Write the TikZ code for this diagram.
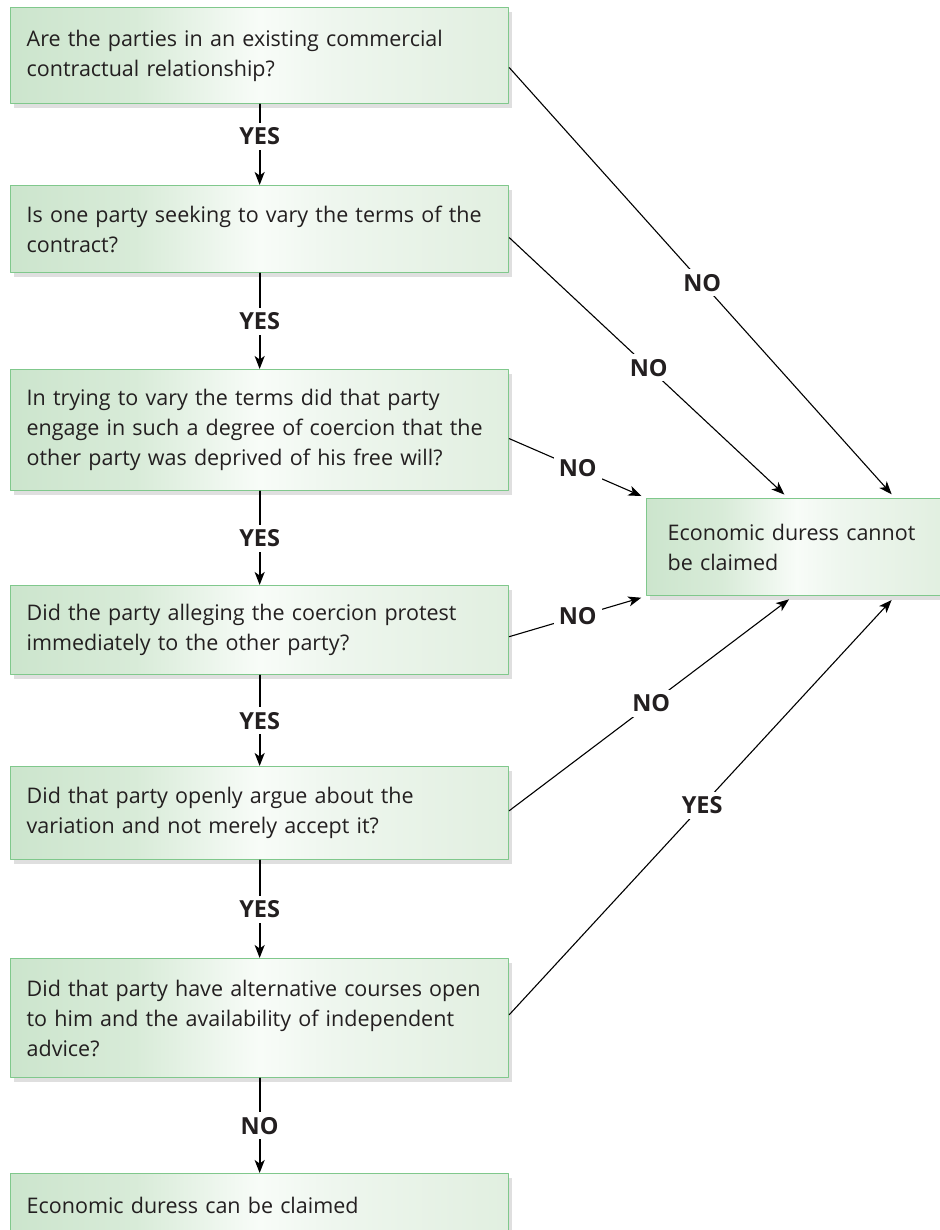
\documentclass[tikz,border=0pt]{standalone}
\usepackage{fontspec}
\setmainfont{Open Sans}
\usetikzlibrary{arrows.meta,shadows}

\definecolor{boxedge}{RGB}{128,200,140}
\definecolor{boxleft}{RGB}{204,229,205}
\definecolor{boxmid}{RGB}{216,235,216}
\definecolor{boxwhite}{RGB}{248,252,248}
\definecolor{boxlight}{RGB}{238,246,238}
\definecolor{boxright}{RGB}{225,239,224}
\definecolor{ink}{RGB}{35,31,32}
\pgfdeclarehorizontalshading{boxfade}{100bp}{color(0bp)=(boxleft); color(25bp)=(boxleft);
  color(37.5bp)=(boxmid); color(50bp)=(boxwhite); color(57.5bp)=(boxlight);
  color(75bp)=(boxright); color(100bp)=(boxright)}

\begin{document}
\begin{tikzpicture}[x=1pt, y=-1pt, line cap=round, line join=round,
  >={Stealth[length=13pt,width=10pt,inset=3.5pt]},
  box/.style={draw=boxedge, line width=1.3pt, shading=boxfade,
    drop shadow={shadow xshift=3pt, shadow yshift=-4pt, opacity=0.25},
    anchor=north west, minimum width=498pt, inner xsep=16pt, inner ysep=0pt,
    text width=466pt, align=left, text=ink, font=\fontsize{21.5}{30}\selectfont},
  ans/.style={fill=white, inner sep=5pt, text=ink, font=\fontsize{23.5}{26}\selectfont\bfseries},
  down/.style={->, line width=1.8pt},
  side/.style={->, line width=1.1pt, shorten >=5pt}]
  \useasboundingbox (0,0) rectangle (939,1230);

  % Questions
  \node[box, minimum height=96pt] (q1) at (10,7)
    {Are the parties in an existing commercial\\contractual relationship?};
  \node[box, minimum height=87pt] (q2) at (10,185)
    {Is one party seeking to vary the terms of the\\contract?};
  \node[box, minimum height=121pt] (q3) at (10,369)
    {In trying to vary the terms did that party\\engage in such a degree of coercion that the\\other party was deprived of his free will?};
  \node[box, minimum height=89pt] (q4) at (10,585)
    {Did the party alleging the coercion protest\\immediately to the other party?};
  \node[box, minimum height=93pt] (q5) at (10,766)
    {Did that party openly argue about the\\variation and not merely accept it?};
  \node[box, minimum height=119pt] (q6) at (10,958)
    {Did that party have alternative courses open\\to him and the availability of independent\\advice?};

  % Outcomes
  \node[box, minimum height=64pt] (can) at (10,1173) {Economic duress can be claimed};
  \node[box, minimum width=300pt, text width=258pt, inner xsep=21pt, minimum height=97pt]
    (cannot) at (646,498) {Economic duress cannot\\be claimed};

  % Down the column
  \draw[down] (q1.south) -- (q2.north) node[ans, pos=0.4] {YES};
  \draw[down] (q2.south) -- (q3.north) node[ans, midway] {YES};
  \draw[down] (q3.south) -- (q4.north) node[ans, midway] {YES};
  \draw[down] (q4.south) -- (q5.north) node[ans, midway] {YES};
  \draw[down] (q5.south) -- (q6.north) node[ans, midway] {YES};
  \draw[down] (q6.south) -- (can.north) node[ans, midway] {NO};

  % Across to the right
  \draw[side] ([yshift=-12pt]q1.east) -- ([xshift=249pt]cannot.north west) node[ans, midway] {NO};
  \draw[side] ([yshift=-8.5pt]q2.east) -- ([xshift=142pt]cannot.north west) node[ans, midway] {NO};
  \draw[side] ([yshift=-8.5pt]q3.east) -- (cannot.north west) node[ans, midway] {NO};
  \draw[side] ([yshift=-6.5pt]q4.east) -- (cannot.south west) node[ans, midway] {NO};
  \draw[side] ([yshift=2.5pt]q5.east) -- ([xshift=147pt]cannot.south west) node[ans, midway] {NO};
  \draw[side] ([yshift=3.5pt]q6.east) -- ([xshift=249pt]cannot.south west) node[ans, midway] {YES};
\end{tikzpicture}
\end{document}
